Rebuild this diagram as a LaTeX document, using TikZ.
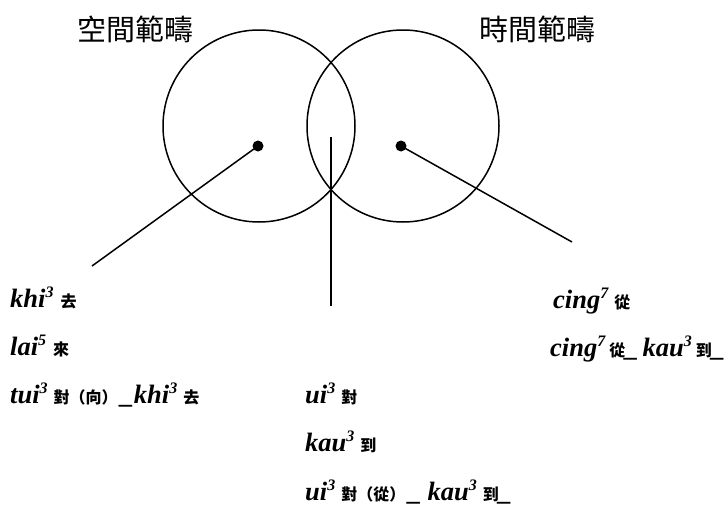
\documentclass[tikz,border=0pt]{standalone}
\usepackage{fontspec}
\setmainfont{Liberation Serif}
\newfontfamily\cjk{Noto Sans CJK TC}
\newcommand{\sx}[1]{\raisebox{0.34em}{\fontsize{16}{16}\selectfont #1}}
\newcommand{\zh}[1]{{\cjk\bfseries\fontsize{16}{16}\selectfont #1}}
\begin{document}
\begin{tikzpicture}[x=1pt,y=-1pt,
  ln/.style={line width=1.5pt, black},
  dotm/.style={circle, fill=black, inner sep=0pt, minimum size=11pt},
  lab/.style={anchor=base west, inner sep=0pt, font=\fontsize{26.5}{26.5}\selectfont\bfseries\itshape},
  title/.style={inner sep=0pt, font=\cjk\fontsize{29}{29}\selectfont}]
\useasboundingbox (0,0) rectangle (728,506);
% circles
\draw[ln] (259,126) circle[radius=96];
\draw[ln] (403,126) circle[radius=96];
% titles
\node[title] (tl) at (135,29) {空間範疇};
\node[title] (tr) at (537,29) {時間範疇};
% dots
\node[dotm] (dl) at (258,146) {};
\node[dotm] (dr) at (401,146) {};
% line ends
\coordinate (el) at (92,266);
\coordinate (mt) at (331,137);
\coordinate (mb) at (331,306);
\coordinate (er) at (572,242);
\draw[ln] (dl.center) -- (el);
\draw[ln] (mt) -- (mb);
\draw[ln] (dr.center) -- (er);
% left block
\node[lab] (a1) at (10,307) {khi\sx{3}\hspace{7pt}\zh{去}};
\node[lab] (a2) at (10,355) {lai\sx{5}\hspace{7pt}\zh{來}};
\node[lab] (a3) at (10,403) {tui\sx{3}\hspace{6pt}\zh{對（向）}\hspace{3pt}\_khi\sx{3}\hspace{6pt}\zh{去}};
% middle block
\node[lab] (b1) at (305,403) {ui\sx{3}\hspace{6pt}\zh{對}};
\node[lab] (b2) at (305,451) {kau\sx{3}\hspace{6pt}\zh{到}};
\node[lab] (b3) at (305,500) {ui\sx{3}\hspace{6pt}\zh{對（從）}\hspace{3pt}\_\hspace{6pt}kau\sx{3}\hspace{6pt}\zh{到}\_};
% right block
\node[lab] (c1) at (553,308) {cing\sx{7}\hspace{6pt}\zh{從}};
\node[lab] (c2) at (550,356) {cing\sx{7}\hspace{4pt}\zh{從}\_\hspace{4pt}kau\sx{3}\hspace{4pt}\zh{到}\_};
\end{tikzpicture}
\end{document}
